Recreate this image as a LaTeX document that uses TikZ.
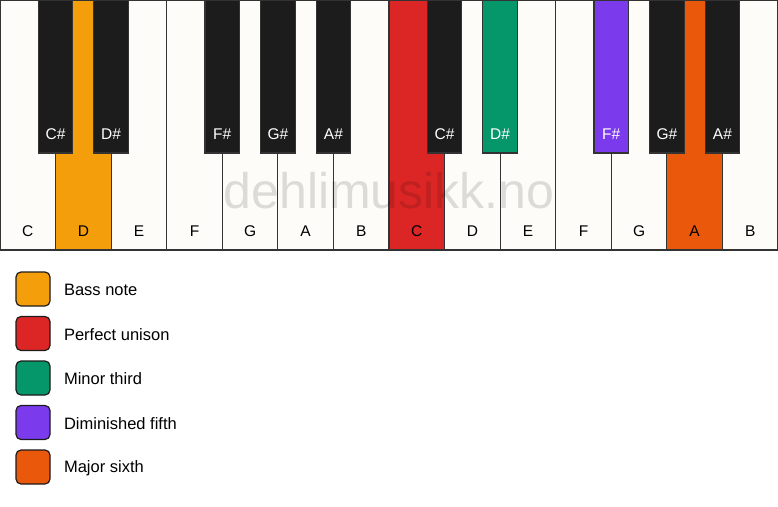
\documentclass[tikz,border=0pt]{standalone}
\usepackage{fontspec}
\setmainfont{Liberation Sans}
\definecolor{ivory}{HTML}{FDFCF8}
\definecolor{ebony}{HTML}{1C1C1C}
\definecolor{bass}{HTML}{F59E0B}
\definecolor{unison}{HTML}{DC2626}
\definecolor{minthird}{HTML}{059669}
\definecolor{dimfifth}{HTML}{7C3AED}
\definecolor{majsixth}{HTML}{EA580C}

\begin{document}
\begin{tikzpicture}[x=1pt, y=-1pt, node distance={55.57pt},
    main/.style = {draw=ebony!90, line width=1.2pt, fill=ivory, rectangle, minimum width=55.57pt, minimum height=250pt, inner sep=0pt, outer sep=0pt},
    blk/.style = {draw=ebony!90, line width=1.2pt, fill=ebony, rectangle, minimum width=34.5pt, minimum height=153pt, inner sep=0pt, outer sep=0pt, anchor=north},
    keytext/.style = {label distance=-13.5pt, anchor=base, font=\fontsize{15.5}{18}\selectfont},
    legbox/.style = {draw=ebony, line width=1.2pt, rounded corners=5pt, minimum size=34pt, inner sep=0pt, outer sep=0pt},
    legtext/.style = {label distance=10.5pt, yshift=-1pt, font=\fontsize{16.5}{19}\selectfont},
    watermark/.style = {font=\fontsize{50}{58}\selectfont, text=black, text opacity=0.13, inner sep=0pt, anchor=base}]
            \useasboundingbox[fill=white] (0,0) rectangle (778,506);

            % white keys
            \node[main, label={[keytext]south:C}] (1) at (27.785,125) {};
            \node[main, fill=bass, label={[keytext]south:D}] (2) [right of=1] {};
            \node[main, label={[keytext]south:E}] (3) [right of=2] {};
            \node[main, label={[keytext]south:F}] (4) [right of=3] {};
            \node[main, label={[keytext]south:G}] (5) [right of=4] {};
            \node[main, label={[keytext]south:A}] (6) [right of=5] {};
            \node[main, label={[keytext]south:B}] (7) [right of=6] {};
            \node[main, fill=unison, label={[keytext]south:C}] (8) [right of=7] {};
            \node[main, label={[keytext]south:D}] (9) [right of=8] {};
            \node[main, label={[keytext]south:E}] (10) [right of=9] {};
            \node[main, label={[keytext]south:F}] (11) [right of=10] {};
            \node[main, label={[keytext]south:G}] (12) [right of=11] {};
            \node[main, fill=majsixth, label={[keytext]south:A}] (13) [right of=12] {};
            \node[main, label={[keytext]south:B}] (14) [right of=13] {};

            \node[watermark] (30) at (389,208) {dehlimusikk.no};

            % black keys
            \node[blk, label={[keytext, text=white]south:C\#}] (15) at (1.north east) {};
            \node[blk, label={[keytext, text=white]south:D\#}] (16) at (2.north east) {};
            \node[blk, label={[keytext, text=white]south:F\#}] (17) at (4.north east) {};
            \node[blk, label={[keytext, text=white]south:G\#}] (18) at (5.north east) {};
            \node[blk, label={[keytext, text=white]south:A\#}] (19) at (6.north east) {};
            \node[blk, label={[keytext, text=white]south:C\#}] (20) at (8.north east) {};
            \node[blk, fill=minthird, label={[keytext, text=white]south:D\#}] (21) at (9.north east) {};
            \node[blk, fill=dimfifth, label={[keytext, text=white]south:F\#}] (22) at (11.north east) {};
            \node[blk, label={[keytext, text=white]south:G\#}] (23) at (12.north east) {};
            \node[blk, label={[keytext, text=white]south:A\#}] (24) at (13.north east) {};

            % legend
            \node[legbox, fill=bass, label={[legtext]east:Bass note}] (25) at (33,289) {};
            \node[legbox, fill=unison, label={[legtext]east:Perfect unison}] (26) [below of=25, node distance=44.5pt] {};
            \node[legbox, fill=minthird, label={[legtext]east:Minor third}] (27) [below of=26, node distance=44.5pt] {};
            \node[legbox, fill=dimfifth, label={[legtext]east:Diminished fifth}] (28) [below of=27, node distance=44.5pt] {};
            \node[legbox, fill=majsixth, label={[legtext]east:Major sixth}] (29) [below of=28, node distance=44.5pt] {};

        \end{tikzpicture}
\end{document}
